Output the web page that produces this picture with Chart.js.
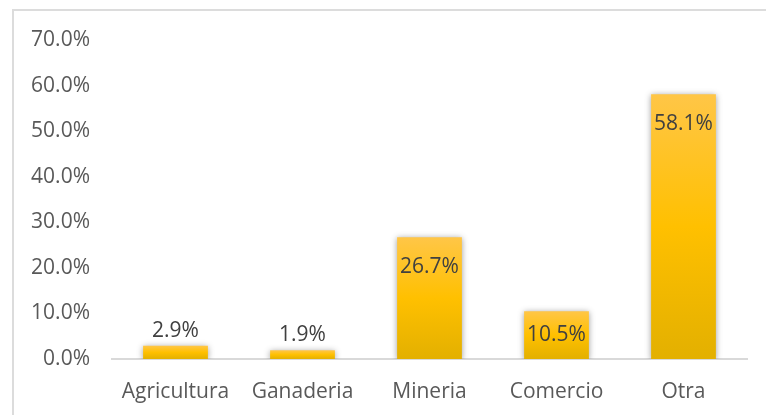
<!DOCTYPE html>
<html>
<head>
<meta charset="utf-8">
<script src="https://cdn.jsdelivr.net/npm/chart.js@4/dist/chart.umd.min.js"></script>
<style>
  html, body { margin: 0; padding: 0; background: #fff; overflow: hidden; }
  #frame { position: absolute; left: 12px; top: 9px; width: 800px; height: 450px;
           border-left: 2px solid #dcdcdc; border-top: 2px solid #dcdcdc; }
  #wrap { position: absolute; left: 0; top: 0; width: 766px; height: 415px; }
</style>
</head>
<body>
<div id="frame"></div>
<div id="wrap"><canvas id="chartSectores"></canvas></div>
<script>
// ── DATOS ──
const categorias = ['Agricultura', 'Ganaderia', 'Mineria', 'Comercio', 'Otra'];
const porcentajes = [2.9, 1.9, 26.7, 10.5, 58.1];
const ticksY = [0, 10, 20, 30, 40, 50, 60, 70];

const FONT = '"Open Sans", "DejaVu Sans", sans-serif';

// gradiente por barra (claro arriba, oscuro abajo)
function barFill(ctx) {
  const chart = ctx.chart;
  if (!chart.chartArea || ctx.type !== 'data') return '#FFC000';
  const y = chart.scales.y;
  const top = y.getPixelForValue(ctx.raw);
  const bot = y.getPixelForValue(0);
  const g = chart.ctx.createLinearGradient(0, top, 0, bot);
  g.addColorStop(0, '#FFC647');
  g.addColorStop(0.5, '#FFC000');
  g.addColorStop(1, '#E3B000');
  return g;
}

// sombra suave de las barras
const barShadow = {
  id: 'barShadow',
  beforeDatasetDraw(chart) {
    const c = chart.ctx;
    c.save();
    c.shadowColor = 'rgba(0,0,0,0.38)';
    c.shadowBlur = 6;
    c.shadowOffsetX = 0;
    c.shadowOffsetY = 1;
  },
  afterDatasetDraw(chart) { chart.ctx.restore(); }
};

// etiquetas de datos (dentro del extremo o encima si la barra es baja)
const dataLabels = {
  id: 'dataLabels',
  afterDatasetsDraw(chart) {
    const c = chart.ctx;
    const meta = chart.getDatasetMeta(0);
    c.save();
    c.font = '21px ' + FONT;
    c.fillStyle = '#404040';
    c.textAlign = 'center';
    c.textBaseline = 'middle';
    meta.data.forEach((bar, i) => {
      const v = porcentajes[i];
      const top = bar.y, bot = bar.base;
      let y;
      if (bot - top < 20) y = top - 15;
      else y = Math.min(top + 30, (top + bot) / 2);
      c.fillText(v.toFixed(1) + '%', bar.x, y);
    });
    c.restore();
  }
};

new Chart(document.getElementById('chartSectores'), {
  type: 'bar',
  data: {
    labels: categorias,
    datasets: [{
      data: porcentajes,
      backgroundColor: barFill,
      borderWidth: 0,
      categoryPercentage: 1,
      barPercentage: 0.51
    }]
  },
  options: {
    responsive: true, maintainAspectRatio: false, animation: false,
    layout: { padding: { left: 0, right: 19, top: 40, bottom: 0 } },
    plugins: { legend: { display: false }, tooltip: { enabled: false } },
    scales: {
      x: {
        grid: { display: false, drawTicks: false },
        border: { display: true, color: '#d9d9d9', width: 2 },
        ticks: { color: '#595959', font: { family: FONT, size: 21 }, padding: 20, maxRotation: 0 },
        afterFit: s => { s.height = 56; }
      },
      y: {
        min: 0, max: 70,
        grid: { display: false, drawTicks: false },
        border: { display: false },
        afterBuildTicks: s => { s.ticks = ticksY.map(v => ({ value: v })); },
        ticks: {
          color: '#595959', font: { family: FONT, size: 21 }, padding: 22,
          callback: v => v.toFixed(1) + '%'
        },
        afterFit: s => { s.width = 112; }
      }
    }
  },
  plugins: [barShadow, dataLabels]
});
</script>
</body>
</html>
